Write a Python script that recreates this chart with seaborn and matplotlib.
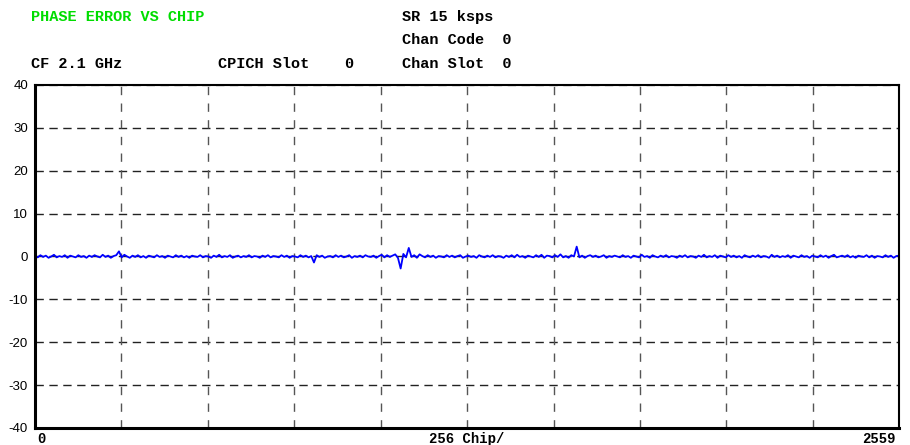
import numpy as np
import pandas as pd
import matplotlib
matplotlib.use("Agg")
import matplotlib.pyplot as plt
import seaborn as sns

# ---- data ----
phase_err = [
    0.1,-0.2,0.3,-0.1,0.2,-0.3,0.0,0.4,-0.2,0.1,-0.1,0.3,-0.3,0.2,0.0,-0.2,0.3,-0.1,0.1,-0.3,
    0.2,-0.1,0.3,0.0,-0.2,0.4,-0.1,0.2,-0.3,0.1,0.3,1.2,-0.2,0.4,0.0,-0.3,0.2,-0.1,0.3,-0.2,
    0.1,-0.3,0.2,0.0,-0.2,0.3,-0.1,0.1,-0.3,0.2,0.0,-0.2,0.3,-0.1,0.2,-0.2,0.1,-0.3,0.2,0.0,
    -0.1,0.3,-0.2,0.1,0.0,-0.3,0.2,-0.1,0.4,-0.2,0.1,-0.1,0.3,-0.3,0.0,0.2,-0.2,0.1,-0.1,0.3,
    -0.2,0.1,0.0,-0.3,0.2,-0.1,0.3,-0.2,0.1,0.0,-0.2,0.3,-0.1,0.2,-0.3,0.1,0.0,-0.2,0.3,-0.1,
    0.2,-0.2,0.1,-1.4,0.3,-0.1,0.2,-0.3,0.0,0.1,-0.2,0.3,-0.1,0.2,-0.2,0.0,0.3,-0.3,0.1,-0.1,
    0.2,-0.2,0.3,0.0,-0.1,0.2,-0.3,0.1,0.4,-0.2,0.3,-0.1,0.2,0.5,-0.3,-2.8,0.6,-0.2,2.0,-0.1,
    0.3,-0.3,0.5,0.1,-0.2,0.3,-0.1,0.2,-0.3,0.1,0.0,-0.2,0.3,-0.1,0.2,-0.2,0.1,0.3,-0.3,0.0,
    0.2,-0.1,0.1,-0.3,0.3,0.0,-0.2,0.2,-0.1,0.3,-0.2,0.1,0.0,-0.3,0.2,-0.1,0.3,-0.2,0.4,-0.1,
    0.1,-0.3,0.2,0.0,-0.2,0.3,-0.1,0.4,-0.3,0.2,0.1,-0.2,0.3,-0.1,0.5,-0.2,0.1,-0.3,0.3,0.0,
    2.3,-0.2,0.2,-0.3,0.1,0.3,-0.1,0.2,-0.2,0.0,0.3,-0.3,0.1,-0.1,0.2,0.0,-0.2,0.3,-0.1,0.1,
    -0.3,0.2,0.0,-0.2,0.4,-0.1,0.1,-0.3,0.3,0.0,-0.2,0.2,-0.1,0.3,-0.2,0.1,0.0,-0.3,0.2,-0.1,
    0.3,-0.2,0.1,0.0,-0.3,0.2,-0.1,0.4,-0.2,0.1,-0.1,0.3,-0.3,0.2,0.0,-0.2,0.3,-0.1,0.2,-0.2,
    0.1,-0.3,0.3,0.0,-0.2,0.2,-0.1,0.3,-0.2,0.1,0.0,-0.3,0.4,-0.1,0.2,-0.2,0.1,-0.1,0.3,-0.3,
    0.2,0.0,-0.2,0.3,-0.1,0.1,-0.3,0.2,0.0,-0.2,0.3,-0.1,0.2,-0.3,0.1,0.4,-0.2,0.0,0.2,-0.1,
    0.3,-0.2,0.1,-0.3,0.2,0.0,-0.1,0.3,-0.2,0.2,-0.3,0.1,0.0,-0.2,0.3,-0.1,0.2,-0.3,0.1,0.2,
]
chip_start, chip_end = 0, 2559
chips = np.linspace(chip_start, chip_end, len(phase_err))
y_ticks = [-40, -30, -20, -10, 0, 10, 20, 30, 40]
y_tick_labels = ["-40", "-30", "-20", "-10", "0", "10", "20", "30", "40"]
chips_per_div = 256

title = "PHASE ERROR VS CHIP"
header_left = "CF 2.1 GHz"
header_mid = "CPICH Slot"
header_mid_val = "0"
header_right = ["SR 15 ksps", "Chan Code  0", "Chan Slot  0"]
x_labels = ["0", "256 Chip/", "2559"]

df = pd.DataFrame({"chip": chips, "err": phase_err})

sns.set_style("white")
W, H = 910, 445
fig = plt.figure(figsize=(W / 100, H / 100), dpi=100)
ax = fig.add_axes([35 / W, 1 - 428 / H, (899 - 35) / W, (428 - 85) / H])

sns.lineplot(data=df, x="chip", y="err", ax=ax, color="#0000ff", lw=1.3)

ax.set_xlim(chip_start, chip_end)
ax.set_ylim(y_ticks[0], y_ticks[-1])
ax.set_yticks(y_ticks)
ax.set_yticklabels(y_tick_labels)
ax.set_xticks(np.arange(chip_start, chip_end + 1, chips_per_div))
ax.set_xticklabels([])
ax.set_xlabel("")
ax.set_ylabel("")
ax.tick_params(axis="y", length=4, width=1, color="black", labelsize=9.5, pad=1,
               labelcolor="black")
ax.tick_params(axis="x", length=0)
for lab in ax.get_yticklabels():
    lab.set_fontfamily("Liberation Sans")

for yv in y_ticks[1:-1]:
    ax.axhline(yv, color="#222222", lw=1.0, ls=(0, (6, 4)), zorder=1)
ax.axhline(y_ticks[-1], color="#777777", lw=1.0, ls=(0, (6, 4)), zorder=1)
for xv in np.arange(chips_per_div, chip_end, chips_per_div):
    ax.axvline(xv, color="#555555", lw=1.0, ls=(0, (6, 6)), zorder=1)

for side, lw in [("left", 2.2), ("bottom", 2.2), ("right", 1.5), ("top", 1.5)]:
    ax.spines[side].set_visible(True)
    ax.spines[side].set_color("black")
    ax.spines[side].set_linewidth(lw)

mono = dict(family="Liberation Mono", weight="bold", fontsize=11, va="center",
            color="black")
def ftext(x, y, s, **kw):
    d = dict(mono); d.update(kw)
    fig.text(x / W, 1 - y / H, s, **d)

ftext(31, 17, title, color="#00dd00")
ftext(402, 17, header_right[0])
ftext(402, 40, header_right[1])
ftext(31, 64, header_left)
ftext(218, 64, header_mid)
ftext(344, 64, header_mid_val)
ftext(402, 64, header_right[2])

ftext(37, 439, x_labels[0], fontsize=10)
ftext(467, 439, x_labels[1], ha="center", fontsize=10)
ftext(862, 439, x_labels[2], fontsize=10)

fig.savefig("out.png", dpi=100)
